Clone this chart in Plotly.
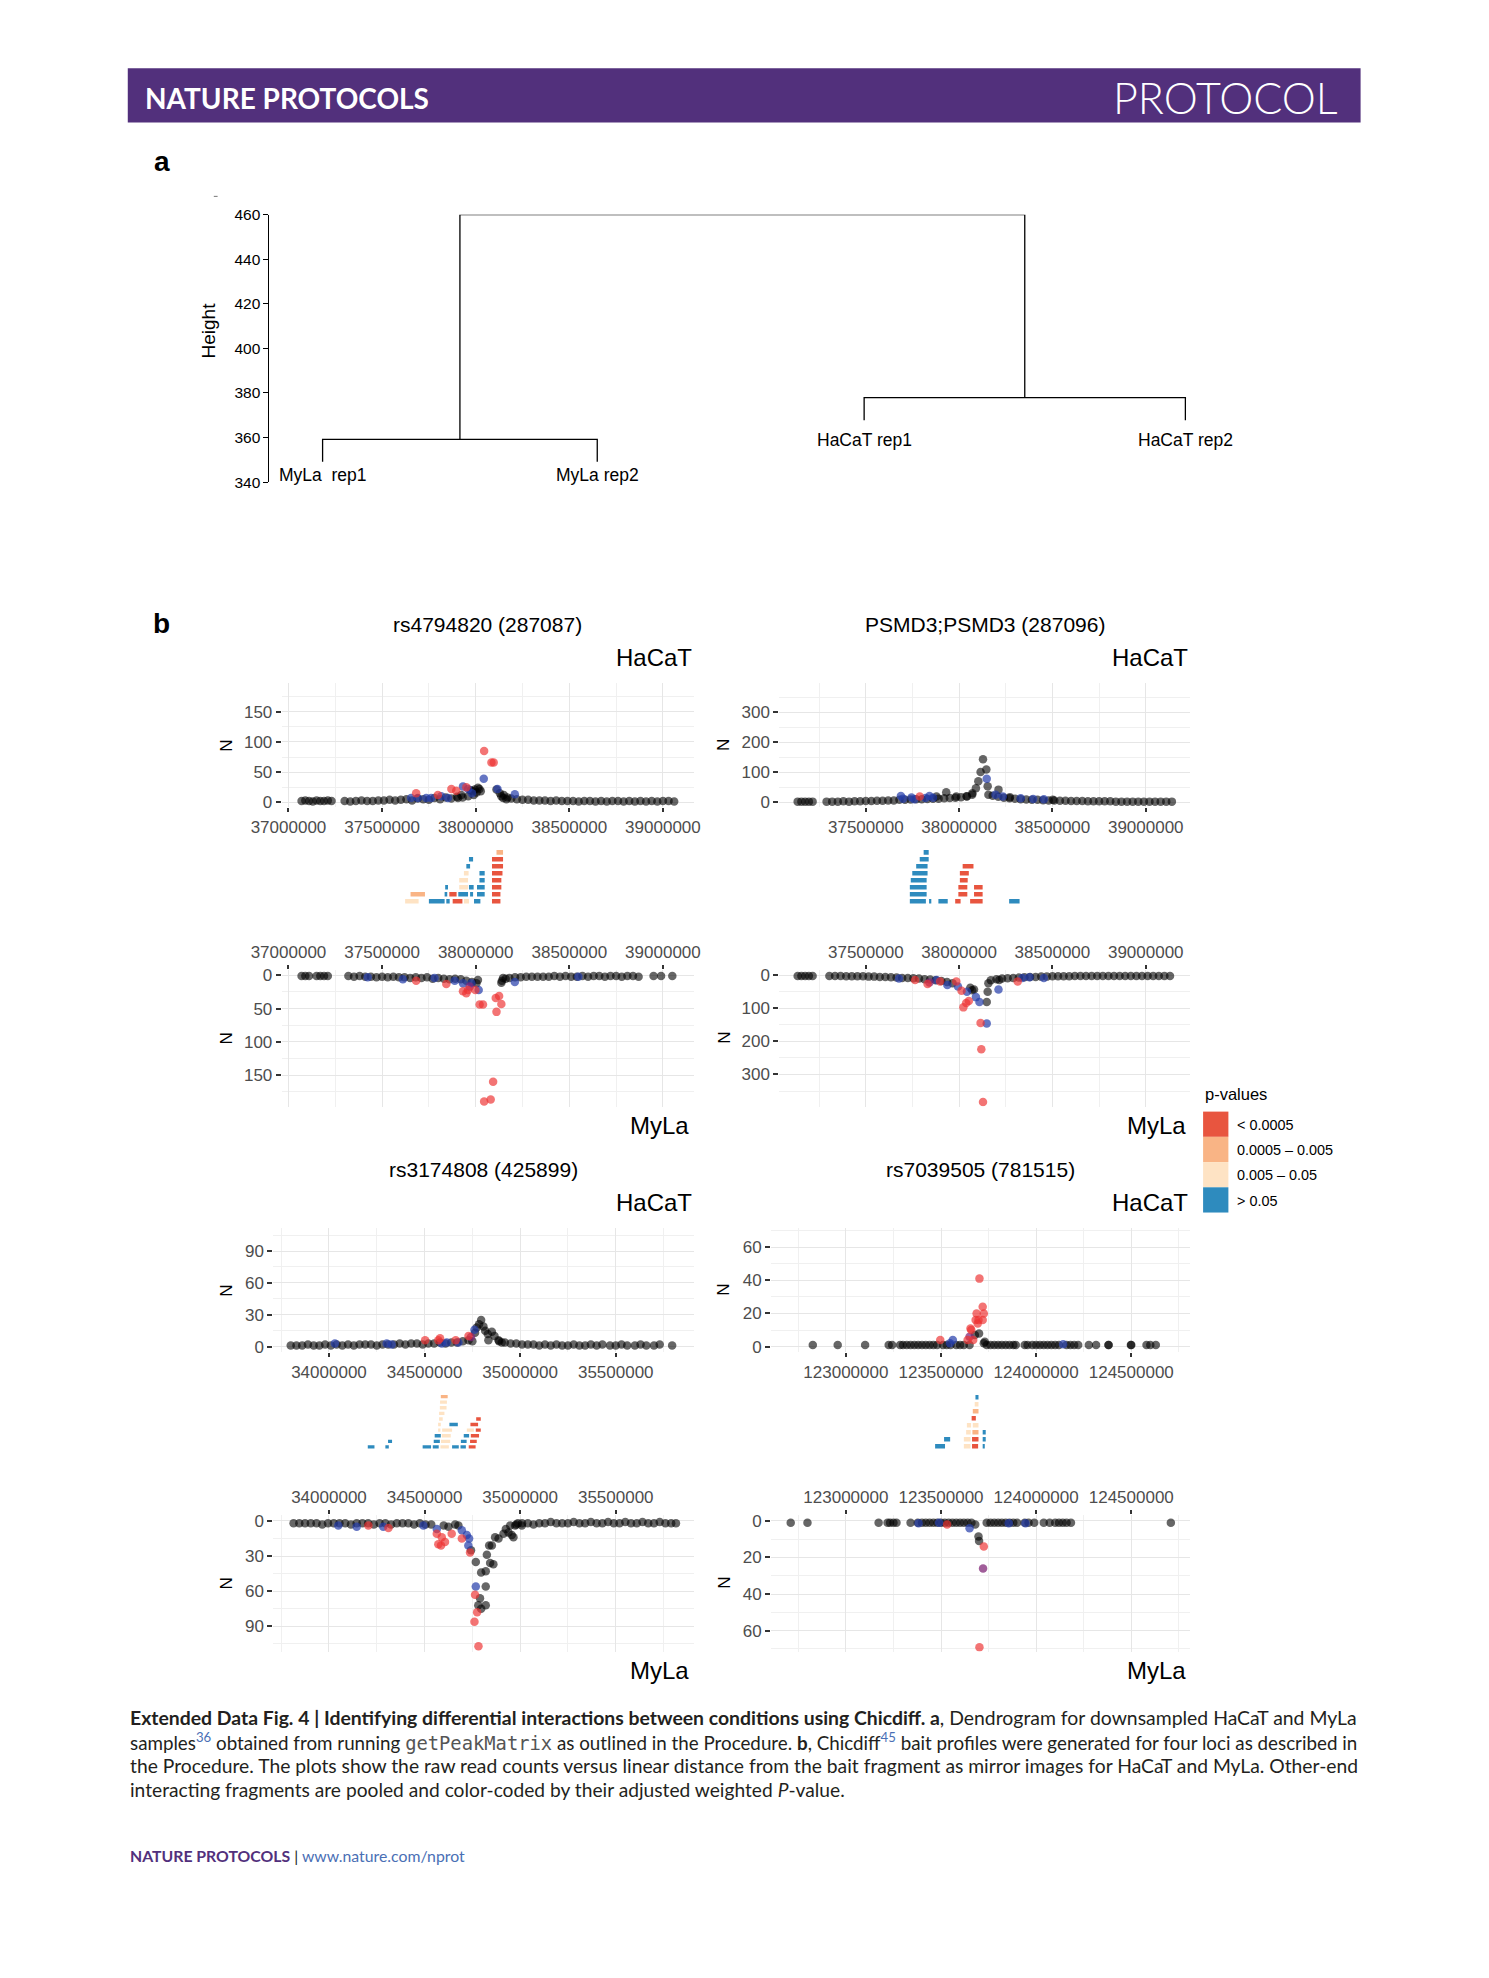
import plotly.graph_objects as go

# ---------------------------------------------------------------- page geometry
PAGE_W, PAGE_H = 1489, 1978
BODY_MARGIN = 8
FIG_W, FIG_H = PAGE_W - 2 * BODY_MARGIN, PAGE_H - 2 * BODY_MARGIN
DISPLAY_W = 1177.0
SCALE = PAGE_W / DISPLAY_W


def fx(xd):
    return (xd * SCALE - BODY_MARGIN) / FIG_W


def fy(yd):
    yd = 54 + (yd - 54) * 0.9972
    return 1 - (yd * SCALE - BODY_MARGIN) / FIG_H


# ---------------------------------------------------------------- data: dendrogram
DENDRO_LABELS = ["MyLa  rep1", "MyLa rep2", "HaCaT rep1", "HaCaT rep2"]
DENDRO_LEAF_X = [1.0, 1.955, 2.883, 4.0]
MERGE_MYLA = 359.2
MERGE_HACAT = 377.9
MERGE_ROOT = 460.0
DENDRO_HANG = 10.1
DENDRO_TICKS = [340, 360, 380, 400, 420, 440, 460]
DENDRO_LABEL_Y = [343.4, 343.4, 358.7, 358.7]

# ---------------------------------------------------------------- data: loci
LOCUS_TITLES = ["rs4794820 (287087)", "PSMD3;PSMD3 (287096)",
                "rs3174808 (425899)", "rs7039505 (781515)"]
X_RANGES_MB = [(36.964, 39.164), (37.0365, 39.2395), (33.7086, 35.9075), (122.6067, 124.811)]
Y_RANGES = [(-8.5, 197.5), (-17, 397), (-5.3, 111.5), (-3.4, 71.4)]
Y_DTICK = [50, 100, 30, 20]
X_DTICK = 500000
STRIP_ROWS = [8, 8, 10, 8]

PVAL_LABELS = ["< 0.0005", "0.0005 \u2013 0.005", "0.005 \u2013 0.05", "> 0.05"]

# baseline read counts (kb position, N)
L1_HACAT_BASE = [(37070, 2), (37090, 3), (37110, 2), (37130, 1), (37150, 3), (37170, 2), (37190, 2), (37210, 3), (37230, 2),
                 (37300, 2), (37330, 1), (37360, 2), (37390, 3), (37420, 2), (37450, 2), (37480, 3), (37510, 3), (37540, 4), (37570, 3),
                 (37600, 4), (37630, 5), (37660, 3), (37690, 6), (37720, 5), (37750, 4), (37780, 7), (37810, 5), (37840, 8), (37870, 6),
                 (37900, 9), (37930, 8), (37960, 10), (37990, 12),
                 (38150, 12), (38170, 8), (38190, 6), (38220, 5), (38250, 4), (38280, 4), (38310, 3), (38340, 3), (38370, 3), (38400, 2),
                 (38430, 3), (38460, 2), (38490, 2), (38520, 2), (38550, 1), (38580, 2), (38610, 2), (38640, 1), (38670, 2), (38700, 1),
                 (38730, 2), (38760, 2), (38790, 1), (38820, 2), (38850, 1), (38880, 2), (38910, 1), (38940, 2), (38970, 1), (39000, 2),
                 (39030, 2), (39060, 1)]
L1_HACAT_PTS = [(37655, 7, 'b'), (37682, 15, 'r'), (37691, 7, 'b'), (37736, 7, 'b'), (37762, 7, 'b'), (37798, 12, 'r'),
                (37816, 10, 'b'), (37852, 7, 'b'), (37870, 22, 'r'), (37896, 19, 'r'), (37905, 7, 'k'), (37923, 12, 'k'),
                (37932, 26, 'b'), (37950, 25, 'r'), (37959, 22, 'b'), (37973, 20, 'k'), (37980, 15, 'b'), (37985, 18, 'k'),
                (37995, 21, 'k'), (38005, 16, 'k'), (38012, 24, 'k'), (38020, 22, 'k'), (38027, 18, 'k'), (38043, 39, 'b'),
                (38045, 85, 'r'), (38084, 66, 'r'), (38096, 66, 'r'), (38111, 21, 'k'), (38116, 22, 'b'), (38129, 15, 'k'),
                (38137, 10, 'k'), (38146, 7, 'k'), (38164, 5, 'k'), (38209, 13, 'b')]
L1_MYLA_BASE = [(37070, 1), (37090, 1), (37110, 1), (37150, 1), (37170, 1), (37190, 1), (37210, 1), (37320, 1),
                (37350, 2), (37380, 1), (37410, 2), (37440, 2), (37470, 3), (37500, 2), (37530, 3), (37560, 2), (37590, 3),
                (37620, 3), (37650, 4), (37680, 3), (37710, 4), (37740, 3), (37770, 5), (37800, 4), (37830, 5), (37860, 6),
                (37890, 5), (37920, 6), (37950, 8), (37980, 10),
                (38140, 8), (38160, 5), (38180, 4), (38210, 3), (38240, 3), (38270, 2), (38300, 2), (38330, 2), (38360, 2),
                (38390, 2), (38420, 1), (38450, 2), (38480, 1), (38510, 2), (38540, 2), (38570, 1), (38600, 2), (38630, 1),
                (38660, 1), (38690, 2), (38720, 1), (38750, 1), (38780, 2), (38810, 1), (38840, 1), (38870, 2),
                (38950, 1), (38990, 1), (39050, 1)]
L1_MYLA_PTS = [(37423, 3, 'b'), (37611, 6, 'b'), (37682, 8, 'r'), (37780, 4, 'b'), (37843, 13, 'r'), (37888, 8, 'b'),
               (37932, 12, 'b'), (37932, 24, 'r'), (37950, 27, 'r'), (37959, 22, 'r'), (37968, 17, 'p'), (37977, 12, 'b'),
               (37998, 22, 'r'), (38004, 12, 'k'), (38012, 7, 'k'), (38016, 22, 'b'), (38021, 44, 'r'), (38039, 44, 'r'),
               (38045, 190, 'r'), (38080, 187, 'r'), (38093, 160, 'r'), (38107, 34, 'r'), (38111, 55, 'r'), (38125, 31, 'r'),
               (38137, 43, 'r'), (38137, 11, 'k'), (38146, 4, 'k'), (38209, 10, 'b'), (38548, 2, 'b')]

L2_HACAT_BASE = [(37135, 2), (37155, 2), (37175, 2), (37195, 2), (37215, 2), (37290, 2),
                 (37320, 2), (37350, 2), (37380, 3), (37410, 2), (37440, 3), (37470, 3), (37500, 4), (37530, 4), (37560, 5),
                 (37590, 5), (37620, 6), (37650, 6), (37680, 8), (37710, 8), (37740, 9), (37770, 10), (37800, 10), (37830, 11),
                 (37860, 12), (37890, 12), (37920, 13), (37950, 14), (37980, 15), (38010, 17), (38040, 20), (38070, 25),
                 (38180, 22), (38210, 18), (38240, 15), (38270, 13), (38300, 12), (38330, 10), (38360, 9), (38390, 8), (38420, 8),
                 (38450, 7), (38480, 6), (38510, 6), (38540, 5), (38570, 5), (38600, 4), (38630, 4), (38660, 4), (38690, 3),
                 (38720, 3), (38750, 3), (38780, 3), (38810, 3), (38840, 2), (38870, 2), (38900, 2), (38930, 2), (38960, 2),
                 (38990, 2), (39020, 2), (39050, 2), (39080, 2), (39110, 2), (39140, 2)]
L2_HACAT_PTS = [(37688, 21, 'b'), (37700, 12, 'b'), (37745, 16, 'b'), (37760, 10, 'b'), (37789, 19, 'r'), (37820, 14, 'b'),
                (37841, 21, 'b'), (37860, 15, 'b'), (37879, 19, 'k'), (37931, 33, 'k'), (37985, 19, 'k'), (38042, 19, 'k'),
                (38071, 30, 'k'), (38090, 47, 'k'), (38103, 70, 'k'), (38115, 101, 'k'), (38128, 143, 'k'), (38146, 109, 'k'),
                (38148, 78, 'b'), (38153, 53, 'k'), (38157, 25, 'k'), (38195, 25, 'b'), (38211, 42, 'k'), (38234, 19, 'b'),
                (38272, 17, 'k'), (38330, 13, 'b'), (38397, 11, 'b'), (38454, 10, 'b'), (38502, 8, 'k')]
L2_MYLA_BASE = [(37135, 2), (37155, 2), (37175, 2), (37195, 2), (37215, 2),
                (37305, 2), (37335, 2), (37365, 2), (37395, 3), (37425, 3), (37455, 3), (37485, 3), (37515, 4), (37545, 4),
                (37575, 5), (37605, 5), (37635, 6), (37665, 7), (37695, 8), (37725, 8), (37755, 9), (37785, 10), (37815, 12),
                (37845, 13), (37875, 15), (37905, 17), (37935, 20), (37965, 24),
                (38170, 15), (38200, 12), (38230, 10), (38260, 9), (38290, 8), (38320, 7), (38350, 6), (38380, 5), (38410, 5),
                (38440, 4), (38470, 4), (38500, 3), (38530, 3), (38560, 3), (38590, 3), (38620, 2), (38650, 2), (38680, 2),
                (38710, 2), (38740, 2), (38770, 2), (38800, 2), (38830, 2), (38860, 2), (38890, 2), (38920, 2), (38950, 2),
                (38980, 2), (39010, 2), (39040, 2), (39070, 2), (39100, 2), (39130, 2)]
L2_MYLA_PTS = [(37678, 10, 'b'), (37764, 14, 'r'), (37831, 26, 'r'), (37841, 22, 'p'), (37879, 14, 'b'), (37898, 19, 'r'),
               (37937, 29, 'b'), (37985, 19, 'r'), (37994, 34, 'b'), (38013, 47, 'r'), (38023, 97, 'r'), (38038, 84, 'r'),
               (38042, 50, 'b'), (38052, 78, 'r'), (38060, 38, 'k'), (38070, 45, 'k'), (38080, 43, 'k'), (38090, 66, 'b'),
               (38109, 81, 'b'), (38115, 144, 'r'), (38119, 224, 'r'), (38128, 383, 'r'), (38148, 146, 'b'), (38148, 81, 'k'),
               (38153, 50, 'k'), (38157, 24, 'k'), (38211, 43, 'b'), (38215, 14, 'k'), (38314, 19, 'r'), (38339, 8, 'b'),
               (38377, 6, 'b'), (38454, 8, 'b')]

L3_HACAT_BASE = [(33800, 1), (33830, 1), (33860, 1), (33890, 2), (33920, 1), (33950, 1), (33980, 2), (34010, 1), (34040, 2),
                 (34070, 1), (34100, 2), (34130, 1), (34160, 2), (34190, 2), (34220, 2), (34250, 1), (34280, 2), (34310, 2),
                 (34340, 2), (34370, 3), (34400, 2), (34430, 3), (34460, 3), (34490, 2), (34520, 3), (34550, 3), (34580, 4),
                 (34610, 3), (34640, 4), (34670, 4), (34700, 5), (34730, 6),
                 (34890, 5), (34920, 4), (34950, 3), (34980, 3), (35010, 2), (35040, 2), (35070, 2), (35100, 1), (35130, 2),
                 (35160, 1), (35190, 2), (35220, 1), (35250, 1), (35280, 2), (35310, 1), (35340, 1), (35370, 2),
                 (35400, 1), (35430, 2), (35470, 1), (35500, 1), (35530, 2), (35560, 1), (35600, 1), (35630, 2), (35660, 1),
                 (35700, 1), (35730, 2), (35795, 1)]
L3_HACAT_PTS = [(34031, 3, 'b'), (34302, 3, 'b'), (34328, 2, 'b'), (34503, 6, 'r'), (34572, 6, 'r'), (34581, 8, 'r'),
                (34590, 3, 'b'), (34616, 4, 'b'), (34663, 6, 'r'), (34677, 4, 'b'), (34730, 10, 'r'), (34743, 9, 'p'),
                (34750, 5, 'k'), (34761, 16, 'b'), (34764, 13, 'k'), (34773, 18, 'k'), (34785, 21, 'k'), (34796, 25, 'k'),
                (34808, 19, 'k'), (34817, 15, 'k'), (34831, 12, 'k'), (34834, 6, 'k'), (34852, 14, 'k'), (34866, 10, 'k'),
                (34887, 6, 'k'), (34904, 4, 'k')]
L3_MYLA_BASE = [(33815, 2), (33845, 2), (33875, 2), (33905, 2), (33935, 2), (33965, 3), (33995, 2), (34025, 2), (34055, 2),
                (34085, 2), (34115, 3), (34145, 2), (34175, 2), (34205, 2), (34235, 3), (34265, 2), (34295, 2), (34325, 3),
                (34355, 2), (34385, 2), (34415, 2), (34445, 3), (34475, 2), (34505, 3), (34535, 3), (34600, 4), (34660, 3),
                (34980, 3), (35010, 2), (35040, 2), (35070, 3), (35100, 2), (35130, 2), (35160, 1), (35190, 2), (35220, 2),
                (35250, 2), (35280, 1), (35310, 2), (35340, 2), (35370, 1), (35400, 2), (35430, 2), (35460, 1), (35490, 2),
                (35520, 2), (35550, 1), (35580, 2), (35610, 2), (35640, 1), (35670, 2), (35700, 2), (35730, 1), (35760, 2),
                (35790, 2), (35815, 2)]
L3_MYLA_PTS = [(34049, 4, 'b'), (34145, 5, 'b'), (34206, 4, 'r'), (34284, 5, 'b'), (34311, 6, 'r'), (34494, 4, 'b'),
               (34564, 7, 'b'), (34564, 11, 'r'), (34572, 20, 'r'), (34586, 21, 'r'), (34590, 14, 'r'), (34607, 18, 'r'),
               (34625, 5, 'k'), (34642, 11, 'r'), (34677, 4, 'k'), (34695, 8, 'b'), (34695, 15, 'r'), (34721, 12, 'b'),
               (34729, 21, 'b'), (34733, 15, 'b'), (34738, 27, 'r'), (34743, 25, 'k'), (34768, 35, 'k'), (34796, 44, 'k'),
               (34820, 43, 'k'), (34768, 56, 'b'), (34764, 63, 'r'), (34790, 66, 'k'), (34781, 72, 'k'), (34820, 72, 'k'),
               (34820, 56, 'k'), (34796, 75, 'k'), (34775, 78, 'r'), (34761, 86, 'r'), (34782, 107, 'r'), (34826, 29, 'k'),
               (34838, 21, 'k'), (34852, 21, 'k'), (34860, 37, 'k'), (34843, 36, 'k'), (34869, 14, 'k'), (34887, 15, 'k'),
               (34913, 11, 'k'), (34925, 7, 'k'), (34939, 10, 'k'), (34956, 12, 'k'), (34965, 14, 'k'), (34974, 4, 'k'),
               (34988, 2, 'k'), (34948, 4, 'k'), (35009, 4, 'k')]

L4_HACAT_BASE = [(122826, 1), (122957, 1), (123101, 1), (123225, 1), (123243, 1), (123285, 1), (123300, 1), (123320, 1),
                 (123340, 1), (123360, 1), (123380, 1), (123400, 1), (123420, 1), (123440, 1), (123460, 1), (123480, 1),
                 (123510, 1), (123530, 1), (123550, 1), (123580, 1), (123600, 1), (123620, 1), (123650, 1), (123725, 2),
                 (123740, 1), (123760, 1), (123780, 1), (123800, 1), (123820, 1), (123840, 1), (123860, 1), (123880, 1),
                 (123893, 1), (123940, 1), (123955, 1), (123980, 1), (124000, 1), (124020, 1), (124040, 1), (124060, 1),
                 (124080, 1), (124100, 1), (124120, 1), (124160, 1), (124180, 1), (124200, 1), (124221, 1), (124277, 1),
                 (124315, 1), (124380, 1), (124381, 1), (124498, 1), (124500, 1), (124580, 1), (124600, 1), (124629, 1)]
L4_HACAT_PTS = [(123496, 4, 'r'), (123547, 2, 'b'), (123562, 4, 'b'), (123640, 4, 'r'), (123650, 6, 'p'), (123655, 11, 'r'),
                (123659, 10, 'r'), (123669, 4, 'r'), (123678, 7, 'k'), (123682, 16, 'r'), (123687, 20, 'r'), (123693, 14, 'r'),
                (123697, 16, 'r'), (123700, 8, 'k'), (123702, 41, 'r'), (123719, 24, 'r'), (123719, 16, 'r'), (123725, 20, 'r'),
                (123730, 3, 'k'), (124142, 1.5, 'b')]
L4_MYLA_BASE = [(122710, 1), (122798, 1), (123172, 1), (123219, 1), (123232, 1), (123250, 1), (123266, 1), (123340, 1),
                (123378, 1), (123400, 1), (123420, 1), (123440, 1), (123460, 1), (123480, 1), (123500, 1), (123520, 1),
                (123540, 1), (123560, 1), (123580, 1), (123600, 1), (123620, 1), (123640, 1), (123660, 1), (123680, 2),
                (123740, 1), (123760, 1), (123780, 1), (123800, 1), (123820, 1), (123840, 1), (123860, 1), (123880, 1),
                (123900, 1), (123940, 1), (123960, 1), (123990, 1), (124040, 1), (124071, 1), (124100, 1), (124120, 1),
                (124140, 1), (124160, 1), (124183, 1), (124708, 1)]
L4_MYLA_PTS = [(123382, 1.3, 'b'), (123490, 1, 'b'), (123532, 2, 'r'), (123650, 4, 'b'), (123697, 8.5, 'k'), (123700, 11, 'k'),
               (123725, 14, 'r'), (123721, 26, 'p'), (123702, 69, 'r'), (123856, 1.3, 'b'), (123944, 1.3, 'b')]

# pooled fragments: (start kb, end kb, stack row, p-value class 0..3)
L1_TILES = [(37623, 37695, 1, 2), (37750, 37834, 1, 3), (37843, 37861, 1, 3), (37877, 37929, 1, 0), (37937, 37964, 1, 2),
            (37991, 38025, 1, 3), (38087, 38132, 1, 0),
            (37652, 37729, 2, 1), (37834, 37848, 2, 3), (37859, 37898, 2, 0), (37907, 37959, 2, 3), (37970, 37986, 2, 3),
            (38007, 38048, 2, 3), (38087, 38132, 2, 0),
            (37837, 37852, 3, 3), (37912, 37959, 3, 2), (37964, 37989, 3, 3), (38007, 38048, 3, 3), (38087, 38137, 3, 0),
            (37912, 37959, 4, 2), (38020, 38048, 4, 3), (38087, 38137, 4, 0),
            (37937, 37962, 5, 2), (38020, 38048, 5, 3), (38087, 38143, 5, 0),
            (37950, 37970, 6, 3), (38087, 38146, 6, 0),
            (37964, 37986, 7, 3), (38087, 38146, 7, 0),
            (38111, 38146, 8, 1)]
L2_TILES = [(37736, 37822, 1, 3), (37839, 37851, 1, 3), (37889, 37939, 1, 3), (37979, 38008, 1, 0), (38059, 38126, 1, 0),
            (38268, 38324, 1, 3),
            (37736, 37826, 2, 3), (37996, 38044, 2, 0), (38080, 38126, 2, 0),
            (37736, 37826, 3, 3), (37996, 38044, 3, 0), (38080, 38126, 3, 0),
            (37741, 37826, 4, 3), (38004, 38046, 4, 0),
            (37749, 37831, 5, 3), (38004, 38052, 5, 0),
            (37770, 37831, 6, 3), (38019, 38077, 6, 0),
            (37789, 37837, 7, 3),
            (37810, 37837, 8, 3)]
L3_TILES = [(34203, 34238, 1, 3), (34295, 34313, 1, 3), (34490, 34534, 1, 3), (34543, 34574, 1, 3), (34583, 34627, 1, 2),
            (34644, 34679, 1, 3), (34688, 34716, 1, 3), (34731, 34767, 1, 0),
            (34309, 34330, 2, 3), (34548, 34580, 2, 3), (34586, 34634, 2, 2), (34690, 34720, 2, 3), (34738, 34773, 2, 0),
            (34553, 34585, 3, 3), (34590, 34637, 3, 2), (34705, 34733, 3, 3), (34742, 34785, 3, 0),
            (34571, 34583, 4, 2), (34592, 34644, 4, 2), (34721, 34758, 4, 2), (34768, 34794, 4, 0),
            (34571, 34585, 5, 2), (34630, 34674, 5, 3), (34740, 34780, 5, 0),
            (34576, 34595, 6, 2), (34770, 34794, 6, 0),
            (34576, 34604, 7, 2),
            (34580, 34615, 8, 2),
            (34581, 34617, 9, 2),
            (34585, 34621, 10, 1)]
L4_TILES = [(123469, 123521, 1, 3), (123620, 123655, 1, 2), (123663, 123695, 1, 0), (123719, 123730, 1, 3),
            (123516, 123548, 2, 3), (123620, 123655, 2, 2), (123663, 123697, 2, 0), (123719, 123735, 2, 3),
            (123632, 123656, 3, 2), (123665, 123697, 3, 1), (123719, 123735, 3, 3),
            (123636, 123658, 4, 2), (123667, 123697, 4, 2),
            (123661, 123683, 5, 0),
            (123667, 123697, 6, 1),
            (123677, 123697, 7, 2),
            (123681, 123697, 8, 3)]

LOCI = [
    (L1_HACAT_BASE, L1_HACAT_PTS, L1_MYLA_BASE, L1_MYLA_PTS, L1_TILES),
    (L2_HACAT_BASE, L2_HACAT_PTS, L2_MYLA_BASE, L2_MYLA_PTS, L2_TILES),
    (L3_HACAT_BASE, L3_HACAT_PTS, L3_MYLA_BASE, L3_MYLA_PTS, L3_TILES),
    (L4_HACAT_BASE, L4_HACAT_PTS, L4_MYLA_BASE, L4_MYLA_PTS, L4_TILES),
]

# ---------------------------------------------------------------- styles
FONT = "Liberation Sans"
CAP_FONT = "Lato"
PURPLE = "#52307C"
TILE_COLORS = ["#E8553F", "#F9B485", "#FEE3C4", "#2E8BBE"]
PT_COLORS = {'k': 'rgba(0,0,0,0.6)', 'b': 'rgba(35,60,170,0.7)',
             'r': 'rgba(238,50,50,0.68)', 'p': 'rgba(130,40,120,0.75)'}
GRID = "#E6E6E6"
MINOR_GRID = "#F0F0F0"
TICK_FONT = dict(family=FONT, size=17, color="#4D4D4D")

PANEL_LEFT_D = [222.7, 616, 216, 609.5]
PANEL_RIGHT_D = [548.3, 941, 548.3, 941]
ROW_OFF_D = [0, 0, 432, 432]
N_LABEL_X_D = [179, 572, 179, 572]
UP_D = (541.4, 639.8)
STRIP_D = (672.7, 717.0)
LOW_D = (768.5, 877.0)

fig = go.Figure()
annotations = []
shapes = []
layout_axes = {}
axis_count = [0]


def new_axes(xd0, xd1, yd_top, yd_bot, xopts, yopts):
    axis_count[0] += 1
    k = axis_count[0]
    sfx = "" if k == 1 else str(k)
    layout_axes["xaxis" + sfx] = dict(domain=[fx(xd0), fx(xd1)], anchor="y" + sfx, automargin=False, **xopts)
    layout_axes["yaxis" + sfx] = dict(domain=[fy(yd_bot), fy(yd_top)], anchor="x" + sfx, automargin=False, **yopts)
    return "x" + sfx, "y" + sfx


def add_text(xd, yd, txt, size, xanchor="center", yanchor="middle", angle=0,
             color="#000000", family=FONT, weight=None):
    f = dict(family=family, size=size, color=color)
    if weight is not None:
        f["weight"] = weight
    annotations.append(dict(x=fx(xd), y=fy(yd), xref="paper", yref="paper", text=txt,
                            showarrow=False, xanchor=xanchor, yanchor=yanchor,
                            textangle=angle, font=f))


# ---------------------------------------------------------------- header banner
shapes.append(dict(type="rect", xref="paper", yref="paper", x0=fx(101), x1=fx(1075.5),
                   y0=fy(97), y1=fy(54), fillcolor=PURPLE, line=dict(width=0), layer="below"))
add_text(113, 77.5, "NATURE PROTOCOLS", 28, xanchor="left", color="white", family=CAP_FONT, weight=700)
add_text(1059, 77, "PROTOCOL", 43, xanchor="right", color="white", family=CAP_FONT, weight=300)
add_text(128, 128, "<b>a</b>", 28)
add_text(128, 494, "<b>b</b>", 28)

# ---------------------------------------------------------------- dendrogram
unit = (937 - 255) / (DENDRO_LEAF_X[3] - DENDRO_LEAF_X[0])
dx_lo = DENDRO_LEAF_X[0] - (255 - 213) / unit
dx_hi = DENDRO_LEAF_X[3] + (982 - 937) / unit
xr, yr = new_axes(213, 982, 170, 382,
                  dict(range=[dx_lo, dx_hi], visible=False),
                  dict(range=[DENDRO_TICKS[0], DENDRO_TICKS[-1]], tickvals=DENDRO_TICKS,
                       showgrid=False, zeroline=False, showline=True, linecolor="#000", linewidth=1,
                       ticks="outside", ticklen=5, tickwidth=1, tickcolor="#000",
                       tickfont=dict(family=FONT, size=15.5, color="#000")))
x1, x2, x3, x4 = DENDRO_LEAF_X
m12, m34 = (x1 + x2) / 2, (x3 + x4) / 2
seg_x = [x1, x1, x2, x2, None, x3, x3, x4, x4, None, m12, m12, m34, m34]
seg_y = [MERGE_MYLA - DENDRO_HANG, MERGE_MYLA, MERGE_MYLA, MERGE_MYLA - DENDRO_HANG, None,
         MERGE_HACAT - DENDRO_HANG, MERGE_HACAT, MERGE_HACAT, MERGE_HACAT - DENDRO_HANG, None,
         MERGE_MYLA, MERGE_ROOT, MERGE_ROOT, MERGE_HACAT]
fig.add_trace(go.Scatter(x=seg_x, y=seg_y, mode="lines", line=dict(color="#000", width=1.3),
                         cliponaxis=False, xaxis=xr, yaxis=yr, showlegend=False, hoverinfo="skip"))
for lx, ly, lab in zip(DENDRO_LEAF_X, DENDRO_LABEL_Y, DENDRO_LABELS):
    annotations.append(dict(x=lx, y=ly, xref=xr, yref=yr, text=lab, showarrow=False,
                            font=dict(family=FONT, size=17.5, color="#000")))
add_text(165, 262, "Height", 19, angle=-90)
shapes.append(dict(type="line", xref="paper", yref="paper", x0=fx(169), x1=fx(172),
                   y0=fy(155.5), y1=fy(155.5), line=dict(color="#777", width=1)))


# ---------------------------------------------------------------- bait profiles
def scatter_traces(base, pts, xa, ya):
    groups = {'k': ([], []), 'b': ([], []), 'p': ([], []), 'r': ([], [])}
    for kb, n in base:
        groups['k'][0].append(kb * 1000)
        groups['k'][1].append(n)
    for kb, n, c in pts:
        groups[c][0].append(kb * 1000)
        groups[c][1].append(n)
    for c in ['k', 'b', 'p', 'r']:
        xs, ys = groups[c]
        if not xs:
            continue
        fig.add_trace(go.Scatter(x=xs, y=ys, mode="markers", xaxis=xa, yaxis=ya,
                                 marker=dict(size=8.5, color=PT_COLORS[c], line=dict(width=0)),
                                 showlegend=False, hoverinfo="skip"))


for i, (hb, hp, mb, mp, tiles) in enumerate(LOCI):
    left, right, off = PANEL_LEFT_D[i], PANEL_RIGHT_D[i], ROW_OFF_D[i]
    xlo, xhi = X_RANGES_MB[i][0] * 1e6, X_RANGES_MB[i][1] * 1e6
    ylo, yhi = Y_RANGES[i]
    dt = Y_DTICK[i]
    xcommon = dict(range=[xlo, xhi], tick0=0, dtick=X_DTICK, tickformat="d",
                   showgrid=True, gridcolor=GRID, gridwidth=1.4, zeroline=False, showline=False,
                   ticks="outside", ticklen=4, tickwidth=2, tickcolor="#333",
                   tickfont=TICK_FONT,
                   minor=dict(dtick=X_DTICK / 2, tick0=0, showgrid=True, gridcolor=MINOR_GRID, gridwidth=0.8, ticks=""))
    ycommon = dict(tick0=0, dtick=dt, showgrid=True, gridcolor=GRID, gridwidth=1.4, zeroline=False,
                   showline=False, ticks="outside", ticklen=5, tickwidth=2, tickcolor="#333",
                   tickfont=TICK_FONT,
                   minor=dict(dtick=dt / 2, tick0=0, showgrid=True, gridcolor=MINOR_GRID, gridwidth=0.8, ticks=""))

    # HaCaT (upper)
    xa, ya = new_axes(left, right, UP_D[0] + off, UP_D[1] + off,
                      dict(side="bottom", **xcommon), dict(range=[ylo, yhi], **ycommon))
    scatter_traces(hb, hp, xa, ya)

    # pooled fragment strip
    nrow = STRIP_ROWS[i]
    xa_s, ya_s = new_axes(left, right, STRIP_D[0] + off, STRIP_D[1] + off,
                          dict(range=[xlo, xhi], visible=False),
                          dict(range=[0.5, nrow + 0.5], visible=False))
    for cls in range(4):
        sel = [t for t in tiles if t[3] == cls]
        if not sel:
            continue
        fig.add_trace(go.Bar(orientation="h",
                             base=[t[0] * 1000 for t in sel],
                             x=[(t[1] - t[0]) * 1000 for t in sel],
                             y=[t[2] for t in sel],
                             width=0.66 if nrow <= 8 else 0.6,
                             marker=dict(color=TILE_COLORS[cls], line=dict(width=0)),
                             opacity=1, xaxis=xa_s, yaxis=ya_s, showlegend=False, hoverinfo="skip"))

    # MyLa (lower, mirrored)
    xa2, ya2 = new_axes(left, right, LOW_D[0] + off, LOW_D[1] + off,
                        dict(side="top", **xcommon), dict(range=[yhi, ylo], **ycommon))
    scatter_traces(mb, mp, xa2, ya2)

    # texts
    add_text((left + right) / 2, 495 + off, LOCUS_TITLES[i], 21)
    add_text(right, 521 + off, "HaCaT", 24, xanchor="right")
    add_text(right - 2, 892 + off, "MyLa", 24, xanchor="right")
    add_text(N_LABEL_X_D[i], (UP_D[0] + UP_D[1]) / 2 + off, "N", 17, angle=-90)
    add_text(N_LABEL_X_D[i], (LOW_D[0] + LOW_D[1]) / 2 + off, "N", 17, angle=-90)

# ---------------------------------------------------------------- legend
add_text(951, 867, "p-values", 16.5, xanchor="left")
for j, (lab, col) in enumerate(zip(PVAL_LABELS, TILE_COLORS)):
    y0 = 881 + 20 * j
    shapes.append(dict(type="rect", xref="paper", yref="paper", x0=fx(951), x1=fx(971),
                       y0=fy(y0 + 20), y1=fy(y0), fillcolor=col, line=dict(width=0)))
    add_text(976, y0 + 10.5, lab, 14.4, xanchor="left")

# ---------------------------------------------------------------- caption
SUP = "<sup><span style='color:#4A6FB5'>{}</span></sup>"
CAPTION = [
    "<b>Extended Data Fig. 4 | Identifying differential interactions between conditions using Chicdiff. a</b>, "
    "Dendrogram for downsampled HaCaT and MyLa",
    "samples" + SUP.format("36") + " obtained from running "
    "<span style='font-family:DejaVu Sans Mono;color:#555555'>getPeakMatrix</span> as outlined in the Procedure. "
    "<b>b</b>, Chicdiff" + SUP.format("45") + " bait profiles were generated for four loci as described in",
    "the Procedure. The plots show the raw read counts versus linear distance from the bait fragment as mirror "
    "images for HaCaT and MyLa. Other-end",
    "interacting fragments are pooled and color-coded by their adjusted weighted <i>P</i>-value.",
]
CAPTION_SIZES = [19.4, 18.8, 19.3, 19.2]
for j, line in enumerate(CAPTION):
    add_text(101, 1361 + 19 * j, line, CAPTION_SIZES[j], xanchor="left", color="#231F20", family=CAP_FONT)

add_text(101, 1471, "<b><span style='color:#52307C'>NATURE PROTOCOLS</span></b>"
         "<span style='color:#231F20'> | </span><span style='color:#4A6FB5'>www.nature.com/nprot</span>",
         15.8, xanchor="left", family=CAP_FONT)

fig.update_layout(
    template="none",
    width=FIG_W, height=FIG_H, margin=dict(l=0, r=0, t=0, b=0, pad=0, autoexpand=False),
    paper_bgcolor="white", plot_bgcolor="white", barmode="overlay",
    showlegend=False, annotations=annotations, shapes=shapes,
    font=dict(family=FONT),
    **layout_axes,
)

fig.write_html("out.html", config={"displayModeBar": False})
